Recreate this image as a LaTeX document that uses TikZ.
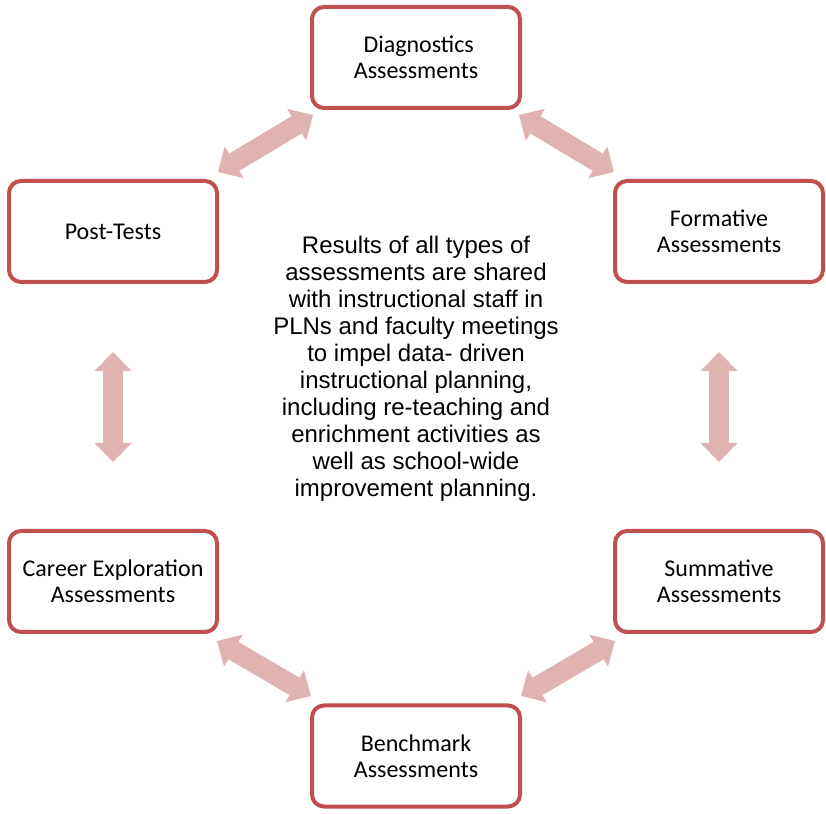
\documentclass[tikz,border=0pt]{standalone}
\usepackage{fontspec}
\setmainfont{Carlito}
\newfontfamily\arialfont{Liberation Sans}
\usetikzlibrary{arrows.meta}

\definecolor{boxred}{RGB}{192,80,77}
\definecolor{arrowpink}{RGB}{224,178,178}

\tikzset{
  stagebox/.style={draw=boxred, line width=4pt, rounded corners=12pt, fill=white,
    minimum width=208pt, minimum height=101pt, align=center,
    font=\fontsize{24}{26}\selectfont},
  cyclearrow/.style={draw=arrowpink, line width=20pt,
    {Triangle[width=37pt,length=19pt,line width=0pt]}-{Triangle[width=37pt,length=19pt,line width=0pt]}}
}

\begin{document}
\begin{tikzpicture}[x=1pt,y=1pt]
  \useasboundingbox (0,0) rectangle (826,813);
  %BOXES
  \node[stagebox] (diag) at (416,755.5) {\ Diagnostics\\Assessments};
  \node[stagebox] (post) at (113,581.5) {Post-Tests};
  \node[stagebox] (form) at (719,581.5) {Formative\\Assessments};
  \node[stagebox] (career) at (113,231.5) {Career Exploration\\Assessments};
  \node[stagebox] (summ) at (719,231.5) {Summative\\Assessments};
  \node[stagebox] (bench) at (416,57) {Benchmark\\Assessments};
  %CENTRE TEXT
  \node[align=center, font=\arialfont\fontsize{24}{27}\selectfont] (results) at (416,444.5)
    {Results of all types of\\assessments are shared\\with instructional staff in\\PLNs and faculty meetings\\to impel data- driven\\instructional planning,\\including re-teaching and\\enrichment activities as\\well as school-wide\\improvement planning.};
  %ARROWS
  \draw[cyclearrow] ([shift={(-1,7)}]post.north east) -- ([shift={(3,-5)}]diag.south west);
  \draw[cyclearrow] ([shift={(-3,-5)}]diag.south east) -- ([shift={(1,7)}]form.north west);
  \draw[cyclearrow, shorten <=68pt, shorten >=67pt] (form.south) -- (summ.north);
  \draw[cyclearrow] ([shift={(2,-7)}]summ.south west) -- ([shift={(-1,7.5)}]bench.north east);
  \draw[cyclearrow] ([shift={(1,7.5)}]bench.north west) -- ([shift={(-2,-7)}]career.south east);
  \draw[cyclearrow, shorten <=67pt, shorten >=68pt] (career.north) -- (post.south);
\end{tikzpicture}
\end{document}
